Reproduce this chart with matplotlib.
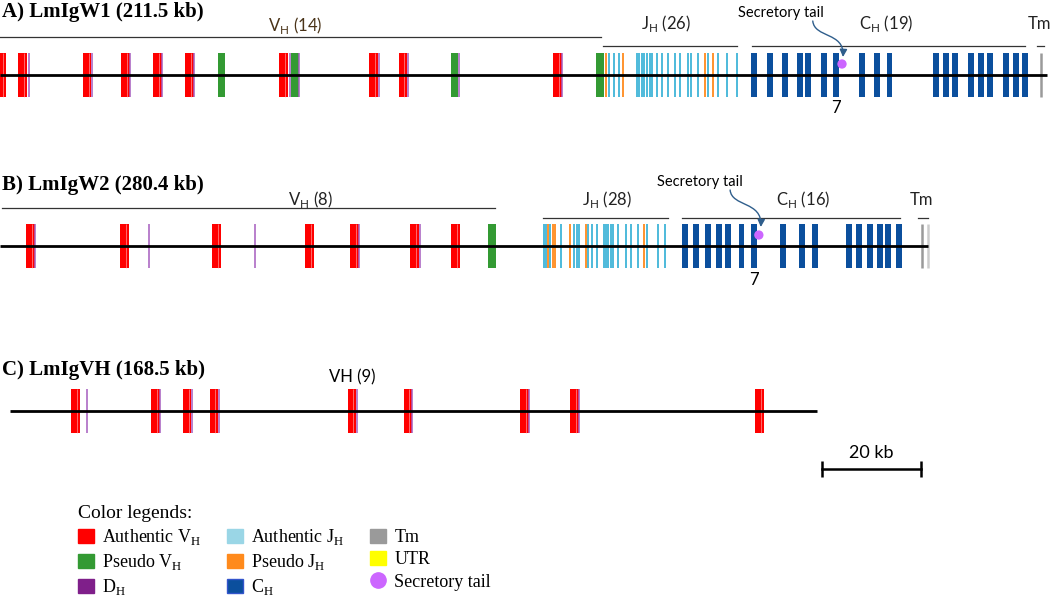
import numpy as np
import matplotlib
matplotlib.use("Agg")
import matplotlib.pyplot as plt
from matplotlib.patches import Patch, FancyArrowPatch
from matplotlib.lines import Line2D
from matplotlib.path import Path

plt.rcParams['mathtext.fontset'] = 'custom'
plt.rcParams['mathtext.rm'] = 'Liberation Serif'
plt.rcParams['mathtext.sf'] = 'Lato'

RED = '#ff0000'
GREEN = '#339a33'
PURPLE = '#7f1f8a'
DH_LINE = '#a65cbf'
CYAN = '#3fb4d8'
CYAN_LEG = '#9ad6e6'
ORANGE = '#ff8a1c'
BLUE = '#0b4f9d'
GRAY = '#9a9a9a'
YELLOW = '#ffff00'
TAIL = '#cc66ff'
ARROW = '#2f5e8c'

# ---- data: positions in kb along each locus ----
# A) LmIgW1
w1_len = 211.5
w1_vh = [0.3, 4.6, 17.6, 25.4, 31.8, 38.3, 57.3, 75.4, 81.4, 112.6]
w1_pvh = [44.8, 59.6, 91.8, 121.2]
w1_dh = [5.8, 18.6, 26.3, 32.8, 39.2, 58.5, 60.4, 76.5, 82.5, 92.7, 113.6]
w1_jh = [123.0, 124.0, 125.1, 128.7, 129.1, 129.7, 130.1, 130.7, 131.3, 131.7,
         132.7, 133.7, 134.9, 136.4, 137.4, 139.0, 139.6, 141.0, 143.0, 145.1,
         146.9, 148.9]
w1_pjh = [122.4, 125.9, 142.4, 144.0]
w1_ch = [152.4, 155.6, 158.5, 161.6, 163.3, 166.5, 168.8, 174.1, 177.1, 179.7,
         189.0, 191.1, 193.0, 196.2, 198.2, 200.0, 203.2, 205.2, 207.0]
w1_tm = [210.3]
w1_tail = 170.1
w1_spans = {'vh': (0.0, 121.4), 'jh': (121.8, 148.9), 'ch': (151.9, 207.1), 'tm': (209.5, 210.9)}

# B) LmIgW2
w2_len = 187.5
w2_vh = [6.1, 25.2, 43.7, 62.5, 71.6, 83.8, 92.0]
w2_pvh = [99.4]
w2_dh = [7.1, 30.1, 51.5, 72.5, 84.8]
w2_jh = [109.9, 110.3, 111.1, 113.3, 116.0, 116.6, 117.0, 118.8, 119.6, 120.6,
         122.0, 122.4, 122.8, 123.4, 123.8, 124.8, 126.5, 127.5, 128.9, 130.7,
         132.9, 134.3]
w2_pjh = [110.7, 111.7, 112.1, 115.2, 118.4, 130.1]
w2_ch = [138.4, 140.6, 143.1, 145.2, 147.0, 149.8, 152.4, 158.2, 162.0, 164.7,
         171.5, 173.5, 175.7, 177.7, 179.4, 181.6]
w2_tm = [186.3, 187.4]
w2_tail = 153.3
w2_spans = {'vh': (0.4, 100.0), 'jh': (109.7, 134.9), 'ch': (137.8, 181.8), 'tm': (185.5, 187.5)}

# C) LmIgVH
vh_start, vh_len = 2.0, 163.1
vh_vh = [15.3, 31.4, 37.8, 43.2, 71.1, 82.4, 106.0, 116.1, 153.5]
vh_dh = [17.6, 32.3, 38.8, 44.2, 72.1, 83.2, 106.9, 117.0]

scale_kb = 20
legend_labels = ['Authentic V$_\\mathrm{H}$', 'Pseudo V$_\\mathrm{H}$', 'D$_\\mathrm{H}$',
                 'Authentic J$_\\mathrm{H}$', 'Pseudo J$_\\mathrm{H}$', 'C$_\\mathrm{H}$',
                 'Tm', 'UTR', 'Secretory tail']

KB_PER_PX = 1 / 4.95
fig = plt.figure(figsize=(10.5, 5.98), dpi=100)
ax = fig.add_axes([0, 0, 1, 1])
ax.set_xlim(0, 1050 * KB_PER_PX)
ax.set_ylim(598, 0)
ax.axis('off')

H = 22  # half height of exon boxes (px)
SANS = 'Lato'


def draw_locus(y, start, length, vh, pvh, dh, jh=(), pjh=(), ch=(), tm=(), tail=None):
    ax.plot([start, start + length], [y, y], color='black', lw=2.0, zorder=5, solid_capstyle='butt')
    ax.bar(vh, 2 * H, width=1.75, bottom=y - H, color=RED, zorder=2)
    ax.vlines(np.array(vh) + 0.3, y - H, y + H, color='#ffb0b0', lw=0.6, alpha=0.7, zorder=3)
    if len(pvh):
        ax.bar(pvh, 2 * H, width=1.5, bottom=y - H, color=GREEN, zorder=2)
    ax.vlines(dh, y - H, y + H, color=DH_LINE, lw=1.1, zorder=3)
    if len(jh):
        ax.vlines(jh, y - H, y + H, color=CYAN, lw=1.3, zorder=2)
    if len(pjh):
        ax.vlines(pjh, y - H, y + H, color=ORANGE, lw=1.3, zorder=2)
    if len(ch):
        ax.bar(ch, 2 * H, width=1.2, bottom=y - H, color=BLUE, zorder=2)
    for i, x in enumerate(tm):
        ax.vlines(x, y - H, y + H, color=GRAY, lw=1.8, alpha=1.0 if i == 0 else 0.5, zorder=2)
    if tail is not None:
        ax.scatter([tail], [y - 11], s=45, color=TAIL, zorder=6, edgecolors='none')


def headers(spans, y_line, y_vh_line, labels):
    for key, (a, b) in spans.items():
        yl = y_vh_line if key == 'vh' else y_line
        ax.plot([a, b], [yl, yl], color='#333333', lw=0.9)
    for x, yy, s, c in labels:
        ax.text(x, yy, s, ha='center', va='center', fontsize=12, family=SANS, color=c)


def tail_arrow(x0, y0, x1, y1):
    verts = [(x0, y0), (x0 + 0.3, y0 + 17), (x1 + 0.3, y0 + 11), (x1, y1)]
    p = Path(verts, [Path.MOVETO, Path.CURVE4, Path.CURVE4, Path.CURVE4])
    ax.add_patch(FancyArrowPatch(path=p, arrowstyle='-|>', mutation_scale=11,
                                 color=ARROW, lw=1.0, zorder=7))


title_kw = dict(fontsize=15, fontweight='bold', family='Liberation Serif', va='center', ha='left')

# ---- A ----
yA = 75
ax.text(0.4, 12, 'A) LmIgW1 (211.5 kb)', **title_kw)
draw_locus(yA, 0, w1_len, w1_vh, w1_pvh, w1_dh, w1_jh, w1_pjh, w1_ch, w1_tm, w1_tail)
headers(w1_spans, 46, 37,
        [(59.6, 25, 'V$_\\mathsf{H}$ (14)', '#4a3318'), (134.5, 24, 'J$_\\mathsf{H}$ (26)', '#222222'),
         (179.0, 24, 'C$_\\mathsf{H}$ (19)', '#222222'), (210.1, 24, 'Tm', '#222222')])
ax.text(157.8, 13, 'Secretory tail', ha='center', va='center', fontsize=10.5, family=SANS)
tail_arrow(164.2, 21, 170.3, 57)
ax.text(w1_ch[6], 108, '7', ha='center', va='center', fontsize=12, family=SANS)

# ---- B ----
yB = 246
ax.text(0.4, 185, 'B) LmIgW2 (280.4 kb)', **title_kw)
draw_locus(yB, 0, w2_len, w2_vh, w2_pvh, w2_dh, w2_jh, w2_pjh, w2_ch, w2_tm, w2_tail)
headers(w2_spans, 218, 208,
        [(62.8, 199, 'V$_\\mathsf{H}$ (8)', '#222222'), (122.6, 200, 'J$_\\mathsf{H}$ (28)', '#222222'),
         (162.2, 200, 'C$_\\mathsf{H}$ (16)', '#222222'), (186.1, 200, 'Tm', '#222222')])
ax.text(141.4, 182, 'Secretory tail', ha='center', va='center', fontsize=10.5, family=SANS)
tail_arrow(147.5, 190, 153.7, 227)
ax.text(w2_ch[6], 280, '7', ha='center', va='center', fontsize=12, family=SANS)

# ---- C ----
yC = 411
ax.text(0.4, 370, 'C) LmIgVH (168.5 kb)', **title_kw)
draw_locus(yC, vh_start, vh_len, vh_vh, [], vh_dh)
ax.text(71.1, 377, 'VH (9)', ha='center', va='center', fontsize=12, family=SANS)

# scale bar
sb0 = 166.0
ax.plot([sb0, sb0 + scale_kb], [469, 469], color='black', lw=1.8)
ax.vlines([sb0, sb0 + scale_kb], 461, 477, color='black', lw=1.8)
ax.text(sb0 + scale_kb / 2, 453, f'{scale_kb} kb', ha='center', va='center', fontsize=13, family=SANS)

# ---- legend ----
handles = [Patch(color=RED), Patch(color=GREEN), Patch(color=PURPLE),
           Patch(color=CYAN_LEG), Patch(color=ORANGE), Patch(facecolor=BLUE, edgecolor='#3355cc'),
           Patch(color=GRAY), Patch(color=YELLOW),
           Line2D([], [], marker='o', ls='none', color=TAIL, markersize=11)]
leg = fig.legend(handles, legend_labels, ncol=3, loc='upper left',
                 bbox_to_anchor=(78 / 1050, 1 - 505 / 598), frameon=False,
                 title='Color legends:', alignment='left',
                 prop={'family': 'Liberation Serif', 'size': 13},
                 title_fontproperties={'family': 'Liberation Serif', 'size': 14},
                 handlelength=0.9, handleheight=0.8, handletextpad=0.45,
                 columnspacing=1.4, labelspacing=0.28, borderpad=0, borderaxespad=0)

fig.savefig('out.png', dpi=100)
